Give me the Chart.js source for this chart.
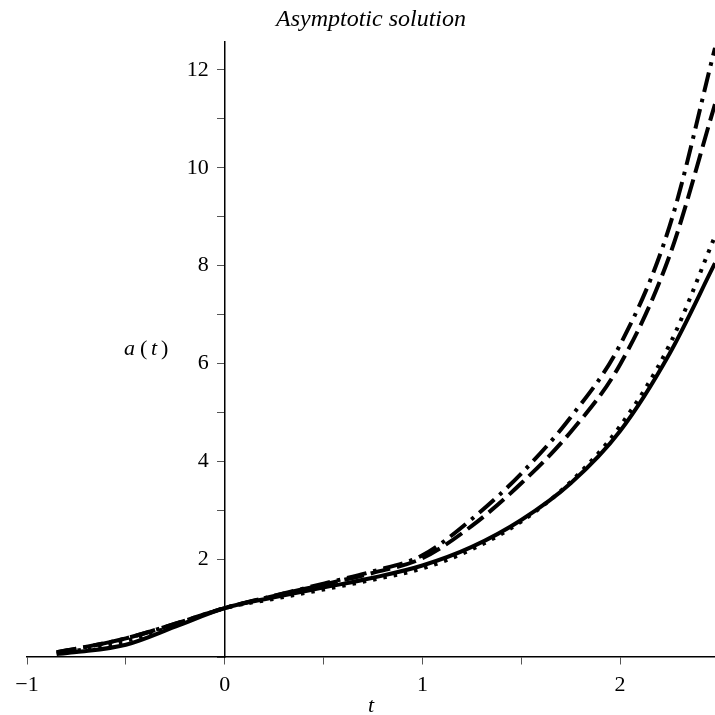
<!DOCTYPE html>
<html>
<head>
<meta charset="utf-8">
<script src="https://cdn.jsdelivr.net/npm/chart.js@4"></script>
<style>
    html, body { margin: 0; padding: 0; background: #fff; overflow: hidden; }
    #wrap { width: 715px; height: 715px; }
</style>
</head>
<body>
<div id="wrap"><canvas id="asymChart"></canvas></div>
<script>
// Sample times along t
const tValues = [-0.85, -0.75, -0.5, -0.25, 0, 0.25, 0.5, 0.75, 1, 1.25, 1.5, 1.75, 2, 2.25, 2.48];

// a(t) for each curve
const solidValues   = [0.06, 0.1, 0.25, 0.62, 1.0, 1.22, 1.42, 1.62, 1.87, 2.25, 2.8, 3.55, 4.62, 6.2, 8.05];
const dottedValues  = [0.08, 0.13, 0.33, 0.65, 1.0, 1.19, 1.38, 1.58, 1.81, 2.2, 2.77, 3.58, 4.72, 6.38, 8.6];
const dashedValues  = [0.1, 0.17, 0.38, 0.68, 1.0, 1.25, 1.48, 1.72, 2.02, 2.68, 3.55, 4.6, 5.98, 8.2, 11.3];
const dashDotValues = [0.1, 0.17, 0.38, 0.68, 1.0, 1.25, 1.5, 1.75, 2.08, 2.82, 3.75, 4.9, 6.38, 8.8, 12.45];

const xTickLabels = { '-1': '\u22121', '0': '0', '1': '1', '2': '2' };
const yTickLabels = [2, 4, 6, 8, 10, 12];

const serif = "'Liberation Serif', 'DejaVu Serif', serif";

function toPoints(values) {
    return tValues.map((t, i) => ({ x: t, y: values[i] }));
}

function curve(label, values, dash) {
    return {
        label: label,
        data: toPoints(values),
        borderColor: '#000',
        borderWidth: 4,
        borderDash: dash,
        borderCapStyle: 'butt',
        pointRadius: 0,
        fill: false,
        cubicInterpolationMode: 'monotone'
    };
}

// Title, axis labels and y tick labels drawn by hand (Maple-like placement)
const labelPlugin = {
    id: 'labels',
    afterDraw(chart) {
        const ctx = chart.ctx;
        const area = chart.chartArea;
        const yScale = chart.scales.y;
        const axisX = chart.scales.x.getPixelForValue(0);
        ctx.save();
        ctx.fillStyle = '#000';
        ctx.textBaseline = 'middle';
        ctx.textAlign = 'center';
        ctx.font = 'italic 24px ' + serif;
        ctx.fillText('Asymptotic solution', (area.left + area.right) / 2, 20);
        ctx.font = 'italic 22px ' + serif;
        ctx.fillText('t', (area.left + area.right) / 2, 706);

        // y tick labels, left of the axis
        ctx.textAlign = 'right';
        ctx.font = '22px ' + serif;
        yTickLabels.forEach(v => {
            ctx.fillText(String(v), axisX - 16, yScale.getPixelForValue(v));
        });

        // a ( t )
        const yMid = yScale.getPixelForValue(6.3);
        ctx.textAlign = 'left';
        ctx.font = 'italic 22px ' + serif;
        ctx.fillText('a', 124, yMid);
        ctx.font = '22px ' + serif;
        ctx.fillText('(', 140, yMid);
        ctx.font = 'italic 22px ' + serif;
        ctx.fillText('t', 151, yMid);
        ctx.font = '22px ' + serif;
        ctx.fillText(')', 161, yMid);
        ctx.restore();
    }
};

const ctx = document.getElementById('asymChart').getContext('2d');
new Chart(ctx, {
    type: 'line',
    data: {
        datasets: [
            curve('solid', solidValues, []),
            curve('dotted', dottedValues, [3.5, 7]),
            curve('dashed', dashedValues, [20, 7]),
            curve('dash-dot', dashDotValues, [20, 7, 3.5, 7])
        ]
    },
    options: {
        responsive: true,
        maintainAspectRatio: false,
        animation: false,
        layout: { padding: { left: 27, right: 0, top: 42, bottom: 58 } },
        plugins: {
            legend: { display: false },
            tooltip: { enabled: false }
        },
        scales: {
            x: {
                type: 'linear',
                min: -1,
                max: 2.48,
                position: { y: 0 },
                border: { color: '#000', width: 1.5 },
                grid: { drawOnChartArea: false, drawTicks: true, tickLength: 7, tickColor: '#555', tickWidth: 1 },
                ticks: {
                    stepSize: 0.5,
                    includeBounds: false,
                    maxRotation: 0,
                    autoSkip: false,
                    padding: 8,
                    color: '#000',
                    font: { family: serif, size: 22 },
                    callback: (value) => xTickLabels[String(value)] || ''
                }
            },
            y: {
                type: 'linear',
                min: 0,
                max: 12.57,
                position: { x: 0 },
                border: { color: '#000', width: 1.5 },
                grid: { drawOnChartArea: false, drawTicks: true, tickLength: 7, tickColor: '#555', tickWidth: 1 },
                ticks: {
                    stepSize: 1,
                    includeBounds: false,
                    autoSkip: false,
                    color: '#000',
                    font: { family: serif, size: 22 },
                    callback: () => ''
                }
            }
        }
    },
    plugins: [labelPlugin]
});
</script>
</body>
</html>
